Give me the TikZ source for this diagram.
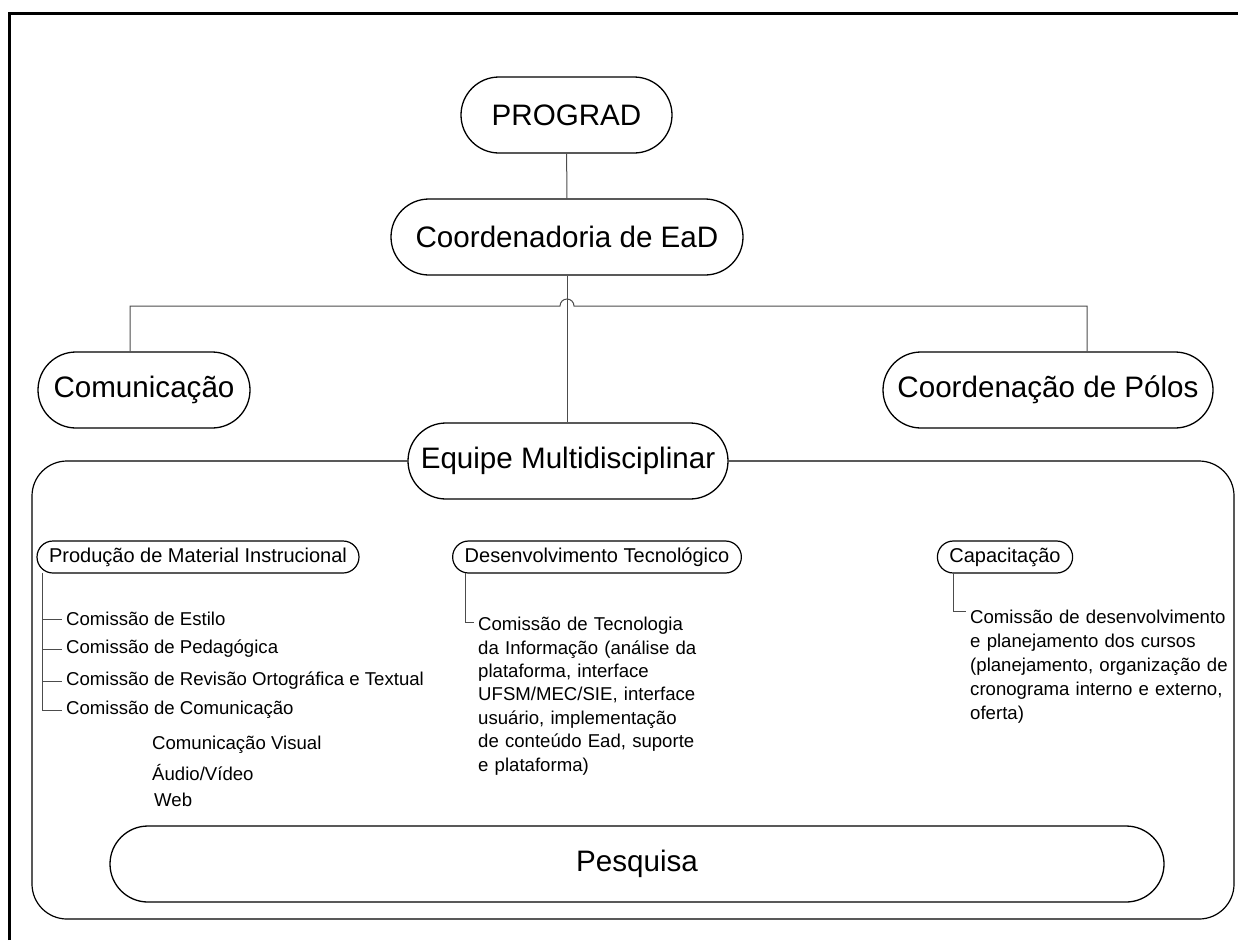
\documentclass[tikz,border=0pt]{standalone}
\usepackage{fontspec}
\setmainfont{Liberation Sans}
\usetikzlibrary{shapes.misc}
\setlength{\parindent}{0pt}

\newcommand{\spreadline}[2]{\makebox[#1][s]{#2}}

\begin{document}
\begin{tikzpicture}[x = 1pt, y = -1pt,
	orgunit/.style = {draw, rounded rectangle, line width = 1.3pt, minimum height = 76pt, inner sep = 0pt, font = \fontsize{29.6}{34}\selectfont},
	orggroup/.style = {draw, rounded rectangle, line width = 1.2pt, minimum height = 32pt, inner xsep = 9pt, inner ysep = 0pt, font = \fontsize{20}{24}\selectfont},
	orgitem/.style = {anchor = west, inner xsep = 4pt, inner ysep = 0pt, font = \fontsize{18.6}{22}\selectfont},
	orgtext/.style = {anchor = north west, inner xsep = 4pt, inner ysep = 0pt, align = left, font = \fontsize{18.6}{23.4}\selectfont},
	orglink/.style = {draw = black!70, line width = 1pt}]

	% Definitions

	\def\W{219}		% Width of the technology text
	\def\V{262}		% Width of the training text

	% Page frame

	\useasboundingbox (0, 0) rectangle (1238, 940);
	\draw [line width = 3pt] (9, 940) -- (9, 13) -- (1238, 13);

	% Upper units

	\node [orgunit, minimum width = 211pt] (prograd) at (566.5, 115) {PROGRAD};
	\node [orgunit, minimum width = 352pt] (coord) at (567, 237) {Coordenadoria de EaD};
	\node [orgunit, minimum width = 212pt] (comun) at (144, 390) {Comunicação};
	\node [orgunit, minimum width = 330pt] (polos) at (1048, 390) {Coordenação de Pólos};
	\node [orgunit, minimum width = 320pt] (equipe) at (568, 461) {Equipe Multidisciplinar};

	% Connectors between units

	\coordinate (lft) at (130, 306);
	\coordinate (rgt) at (1087, 306);
	\coordinate (hop) at (567, 306);

	\draw [orglink] (prograd) -- (coord);
	\draw [orglink] (coord.south -| hop) -- (equipe.north -| hop);
	\draw [orglink] (comun.north -| lft) -- (lft) -- ([xshift = -7pt] hop) arc (180 : 0 : 7pt) -- (rgt) -- (polos.north -| rgt);

	% Multidisciplinary team frame

	\draw [line width = 1.2pt, rounded corners = 35pt] (equipe.west) -| (32, 919) -| (1234, 461) -- (equipe.east);

	\node [orgunit, minimum width = 1054pt] (pesquisa) at (637, 864) {Pesquisa};

	% Groups

	\node [orggroup] (prod) at (198, 557) {Produção de Material Instrucional};
	\node [orggroup] (desenv) at (597, 557) {Desenvolvimento Tecnológico};
	\node [orggroup] (capac) at (1005, 557) {Capacitação};

	% Instructional material

	\coordinate (pl) at (42, 573);

	\node [orgitem] (estilo) at (62, 619) {Comissão de Estilo};
	\node [orgitem] (pedag) at (62, 649) {Comissão de Pedagógica};
	\node [orgitem] (revis) at (62, 681) {Comissão de Revisão Ortográfica e Textual};
	\node [orgitem] (comis) at (62, 710) {Comissão de Comunicação};
	\node [orgitem] (visual) at (148, 745) {Comunicação Visual};
	\node [orgitem] (audio) at (148, 773) {Áudio/Vídeo};
	\node [orgitem] (web) at (150, 800) {Web};

	\foreach \n in {estilo, pedag, revis, comis}
		\draw [orglink] (pl) |- (\n.west);

	% Technological development

	\coordinate (dl) at (465, 573);

	\node [orgtext, text width = \W pt] (tec) at (474, 617) {\spreadline{\W pt}{Comissão de Tecnologia}\\
		\spreadline{\W pt}{da Informação (análise da}\\
		\spreadline{\W pt}{plataforma, interface}\\
		\spreadline{\W pt}{UFSM/MEC/SIE, interface}\\
		\spreadline{\W pt}{usuário, implementação}\\
		\spreadline{\W pt}{de conteúdo Ead, suporte}\\
		e plataforma)};

	\draw [orglink] (dl) |- ([yshift = -5pt] tec.north west);

	% Training

	\coordinate (cl) at (953, 573);

	\node [orgtext, text width = \V pt, font = \fontsize{18.6}{24}\selectfont] (curso) at (966, 610) {\spreadline{\V pt}{Comissão de desenvolvimento}\\
		\spreadline{\V pt}{e planejamento dos cursos}\\
		\spreadline{\V pt}{(planejamento, organização de}\\
		\spreadline{\V pt}{cronograma interno e externo,}\\
		oferta)};

	\draw [orglink] (cl) |- ([yshift = -1pt] curso.north west);

\end{tikzpicture}
\end{document}
